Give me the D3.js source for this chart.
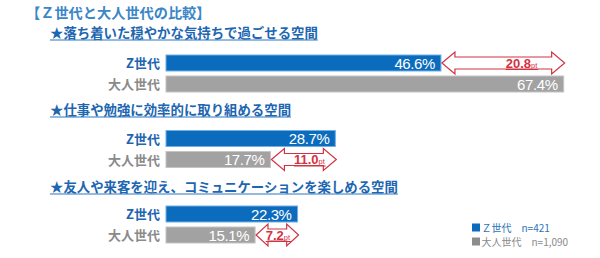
<!DOCTYPE html>
<html><head><meta charset="utf-8">
<script src="https://cdn.jsdelivr.net/npm/d3@7"></script>
<style>
body{margin:0;background:#fff;}
svg{display:block;}
</style></head>
<body>
<svg id="c" width="600" height="258"></svg>
<script>
const title = "【Ｚ世代と大人世代の比較】";
const questions = [
  "★落ち着いた穏やかな気持ちで過ごせる空間",
  "★仕事や勉強に効率的に取り組める空間",
  "★友人や来客を迎え、コミュニケーションを楽しめる空間"
];
const seriesNames = ["Z世代", "大人世代"];
const zValues = [46.6, 28.7, 22.3];
const adultValues = [67.4, 17.7, 15.1];
const diffLabels = ["20.8", "11.0", "7.2"];
const legendLabels = ["Ｚ世代　n=421", "大人世代　n=1,090"];

const blue = "#0b6cbd", gray = "#a2a2a2", red = "#d23343";
const jp = "'Noto Sans CJK JP','Noto Sans',sans-serif";
const num = "'Liberation Sans',Arial,sans-serif";

const svg = d3.select("#c");
const x = d3.scaleLinear().domain([0, 100]).range([166, 756]);
const gy = d3.scaleLinear().domain([0, 1]).range([55, 130.5]);     // bar group top
const sy = d3.scaleLinear().domain([0, 1]).range([37.5, 114.5]);   // subtitle baseline
const barH = 16, rowStep = 21;

svg.append("text").attr("x", 26).attr("y", 17.5)
  .attr("font-family", jp).attr("font-weight", 700).attr("font-size", 14.2)
  .attr("fill", "#3b86c6").text(title);

const data = questions.map((q, i) => ({q, i, vals: [zValues[i], adultValues[i]], diff: diffLabels[i]}));

const g = svg.selectAll("g.grp").data(data).join("g").attr("class", "grp");

// subtitles
g.each(function(d) {
  const sel = d3.select(this);
  const t = sel.append("text").attr("x", 50).attr("y", sy(d.i))
    .attr("font-family", jp).attr("font-weight", 700).attr("font-size", 13.4)
    .attr("fill", "#1d66b1").text(d.q);
  const w = t.node().getComputedTextLength();
  sel.append("line").attr("x1", 50).attr("x2", 50 + w)
    .attr("y1", sy(d.i) + 2.5).attr("y2", sy(d.i) + 2.5)
    .attr("stroke", "#2a78c0").attr("stroke-width", 1.2);
});

// category labels
g.selectAll("text.cat").data(d => seriesNames.map((s, k) => ({s, k, i: d.i})))
  .join("text").attr("class", "cat")
  .attr("x", 160).attr("y", d => gy(d.i) + d.k * rowStep + barH / 2 + 5)
  .attr("text-anchor", "end")
  .attr("font-family", jp).attr("font-weight", 700).attr("font-size", 13)
  .attr("fill", d => d.k === 0 ? "#1f65b0" : "#8a8a8a").text(d => d.s);

// bars
g.selectAll("rect.bar").data(d => d.vals.map((v, k) => ({v, k, i: d.i})))
  .join("rect").attr("class", "bar")
  .attr("x", x(0)).attr("y", d => gy(d.i) + d.k * rowStep)
  .attr("width", d => x(d.v) - x(0)).attr("height", barH)
  .attr("fill", d => d.k === 0 ? blue : gray)
  .attr("stroke", d => d.k === 0 ? "#6fb0e6" : "#c4c4c4").attr("stroke-width", 1);

// value labels
g.selectAll("text.val").data(d => d.vals.map((v, k) => ({v, k, i: d.i})))
  .join("text").attr("class", "val")
  .attr("x", d => x(d.v) - 6).attr("y", d => gy(d.i) + d.k * rowStep + barH / 2 + 5.5)
  .attr("text-anchor", "end")
  .attr("font-family", num).attr("font-size", 15).attr("letter-spacing", -0.4)
  .attr("fill", "#fff").text(d => d.v.toFixed(1) + "%");

// difference arrows
g.each(function(d) {
  const sel = d3.select(this);
  const lo = Math.min(...d.vals), hi = Math.max(...d.vals);
  const k = d.vals.indexOf(lo);
  const x1 = x(lo) + 1, x2 = x(hi) + 1;
  const cy = gy(d.i) + k * rowStep + barH / 2;
  const w = x2 - x1;
  const hl = Math.min(13, w * 0.28), sh = 6, hh = 11;
  const p = d3.path();
  p.moveTo(x1, cy);
  p.lineTo(x1 + hl, cy - hh); p.lineTo(x1 + hl, cy - sh);
  p.lineTo(x2 - hl, cy - sh); p.lineTo(x2 - hl, cy - hh);
  p.lineTo(x2, cy);
  p.lineTo(x2 - hl, cy + hh); p.lineTo(x2 - hl, cy + sh);
  p.lineTo(x1 + hl, cy + sh); p.lineTo(x1 + hl, cy + hh);
  p.closePath();
  sel.append("path").attr("d", p.toString())
    .attr("fill", "#fff").attr("stroke", red).attr("stroke-width", 1.2)
    .attr("stroke-linejoin", "miter");
  const cx = (x1 + x2) / 2 + Math.max(0, w - 40) * 0.22;
  const t = sel.append("text").attr("x", cx).attr("y", cy + 4.5)
    .attr("text-anchor", "middle").attr("font-family", num)
    .attr("font-weight", 700).attr("font-size", 13).attr("fill", red);
  t.append("tspan").text(d.diff);
  t.append("tspan").attr("font-size", 7.5).attr("font-weight", 400).text("pt");
  const bb = t.node().getBBox();
  sel.append("line").attr("x1", bb.x).attr("x2", bb.x + bb.width)
    .attr("y1", cy + 6.5).attr("y2", cy + 6.5)
    .attr("stroke", red).attr("stroke-width", 1);
});

// legend
const lg = svg.append("g").selectAll("g").data(legendLabels).join("g")
  .attr("transform", (d, i) => `translate(472, ${223.5 + i * 14})`);
lg.append("rect").attr("width", 8).attr("height", 8)
  .attr("fill", (d, i) => i === 0 ? blue : "#8c8c8c");
lg.append("text").attr("x", 9.5).attr("y", 8)
  .attr("font-family", jp).attr("font-size", 10)
  .attr("fill", (d, i) => i === 0 ? "#2a74bb" : "#8a8a8a").text(d => d);
</script>
</body></html>
